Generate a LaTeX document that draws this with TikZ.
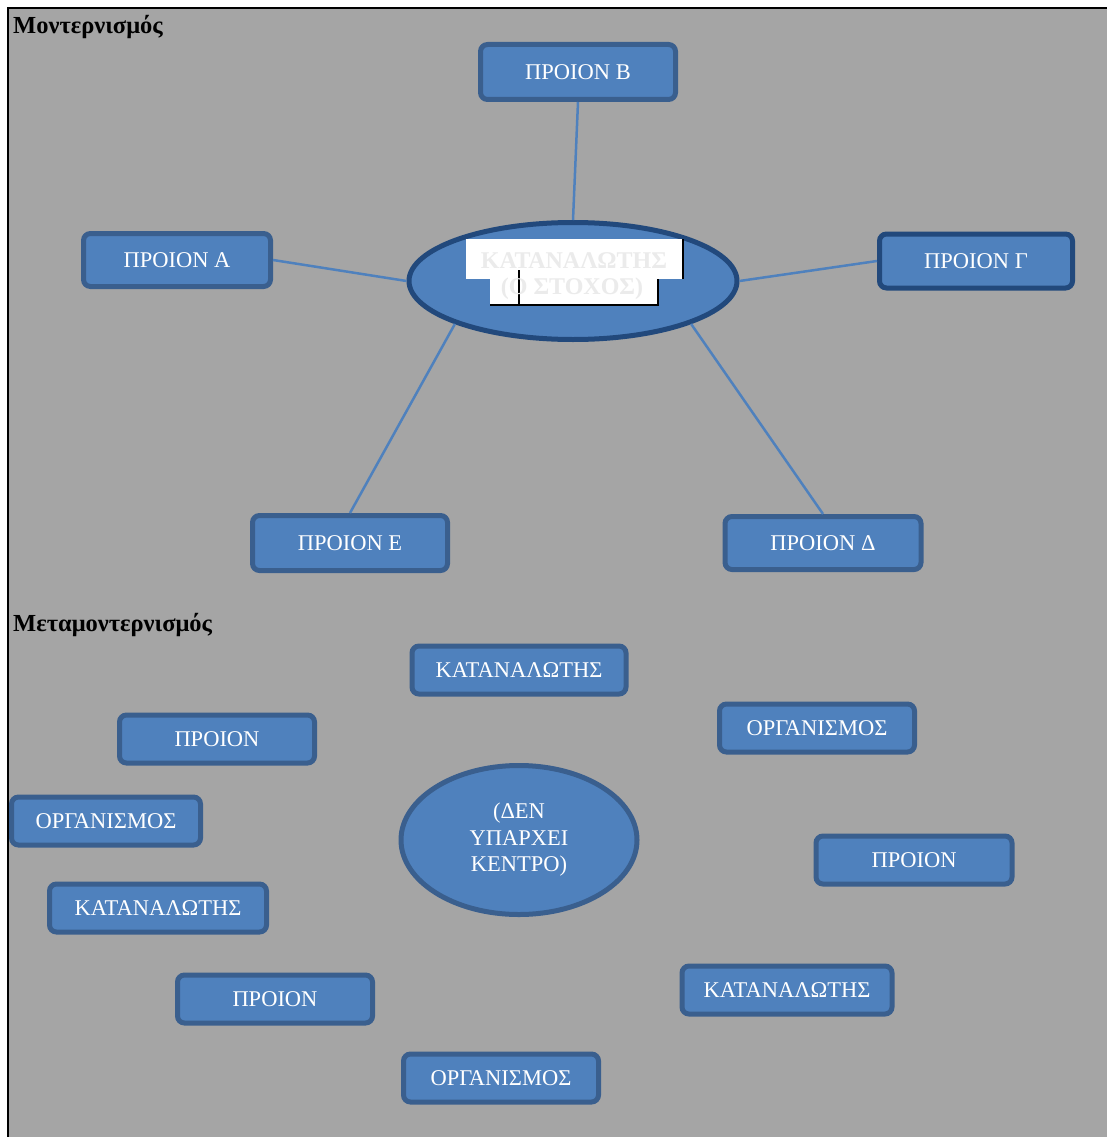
\documentclass[tikz,border=0pt]{standalone}
\usepackage{fontspec}
\setmainfont{Liberation Serif}
\usetikzlibrary{shapes.geometric}
\definecolor{bgray}{HTML}{A5A5A5}
\definecolor{bfill}{HTML}{4F81BD}
\definecolor{bline}{HTML}{3A5F8E}
\definecolor{bdark}{HTML}{22497C}
\definecolor{wtext}{HTML}{EBEBEB}
\tikzset{
  pbox/.style={draw=bline, fill=bfill, line width=5pt, rounded corners=7pt, inner sep=0pt,
    text=white, font=\fontsize{22.5}{26}\selectfont, align=center},
  conn/.style={draw=bfill, line width=2.5pt},
  title/.style={anchor=north west, inner sep=0pt, font=\fontsize{24.5}{28}\selectfont\bfseries},
}
\begin{document}
\begin{tikzpicture}[x=1pt,y=-1pt]
\useasboundingbox (0,0) rectangle (1107,1137);
\fill[white] (0,0) rectangle (1107,1137);
\fill[bgray] (9,9) rectangle (1107,1137);
\draw[black, line width=2.5pt] (8,1137) -- (8,8) -- (1107,8);

\node[title] (t1) at (13,15) {Μοντερνισμός};
\node[title] (t2) at (13,613) {Μεταμοντερνισμός};

% upper diagram
\node[ellipse, draw=bdark, fill=bfill, line width=5pt, minimum width=328pt, minimum height=117pt, inner sep=0pt] (ell) at (573,281) {};
\node[pbox, minimum width=195pt, minimum height=55pt] (B) at (578,72) {ΠΡΟΙΟΝ Β};
\node[pbox, minimum width=187pt, minimum height=53pt] (A) at (177,260) {ΠΡΟΙΟΝ Α};
\node[pbox, draw=bdark, minimum width=193pt, minimum height=54pt] (G) at (976,261) {ΠΡΟΙΟΝ Γ};
\node[pbox, minimum width=195pt, minimum height=55pt] (E) at (350,543) {ΠΡΟΙΟΝ Ε};
\node[pbox, minimum width=196pt, minimum height=53pt] (D) at (823,543) {ΠΡΟΙΟΝ Δ};

\draw[conn] (B.south) -- (ell.north);
\draw[conn] (A.east) -- (ell.west);
\draw[conn] (G.west) -- (ell.east);
\draw[conn] (E.north) -- (ell.200);
\draw[conn] (D.north) -- (ell.340);

% garbled centre label
\fill[white] (466,239) rectangle (683,279);
\fill[white] (490,279) rectangle (658,305);
\draw[black, line width=1.2pt] (683,239) -- (683,279);
\draw[black, line width=1.2pt] (658,279) -- (658,305) -- (490,305);
\draw[black, line width=1.2pt] (519,270) -- (519,305);
\node[text=wtext, font=\fontsize{24}{26}\selectfont\bfseries, inner sep=0pt] (c1) at (574,261) {ΚΑΤΑΝΑΛΩΤΗΣ};
\node[text=wtext, font=\fontsize{24}{26}\selectfont\bfseries, inner sep=0pt] (c2) at (572,289) {(Ο ΣΤΟΧΟΣ)};

% lower diagram
\node[ellipse, draw=bline, fill=bfill, line width=5pt, minimum width=236pt, minimum height=149pt, inner sep=0pt,
  text=white, font=\fontsize{22.5}{26.5}\selectfont, align=center] (ell2) at (519,840) {(ΔΕΝ\\ΥΠΑΡΧΕΙ\\ΚΕΝΤΡΟ)};
\node[pbox, minimum width=214pt, minimum height=48pt] (k1) at (519,670) {ΚΑΤΑΝΑΛΩΤΗΣ};
\node[pbox, minimum width=195pt, minimum height=48pt] (p1) at (217,739) {ΠΡΟΙΟΝ};
\node[pbox, minimum width=195pt, minimum height=48pt] (o1) at (817,728) {ΟΡΓΑΝΙΣΜΟΣ};
\node[pbox, minimum width=189pt, minimum height=48pt] (o2) at (106,821) {ΟΡΓΑΝΙΣΜΟΣ};
\node[pbox, minimum width=196pt, minimum height=48pt] (p2) at (914,860) {ΠΡΟΙΟΝ};
\node[pbox, minimum width=217pt, minimum height=48pt] (k2) at (158,908) {ΚΑΤΑΝΑΛΩΤΗΣ};
\node[pbox, minimum width=195pt, minimum height=48pt] (p3) at (275,999) {ΠΡΟΙΟΝ};
\node[pbox, minimum width=210pt, minimum height=48pt] (k3) at (787,990) {ΚΑΤΑΝΑΛΩΤΗΣ};
\node[pbox, minimum width=195pt, minimum height=48pt] (o3) at (501,1078) {ΟΡΓΑΝΙΣΜΟΣ};
\end{tikzpicture}
\end{document}
